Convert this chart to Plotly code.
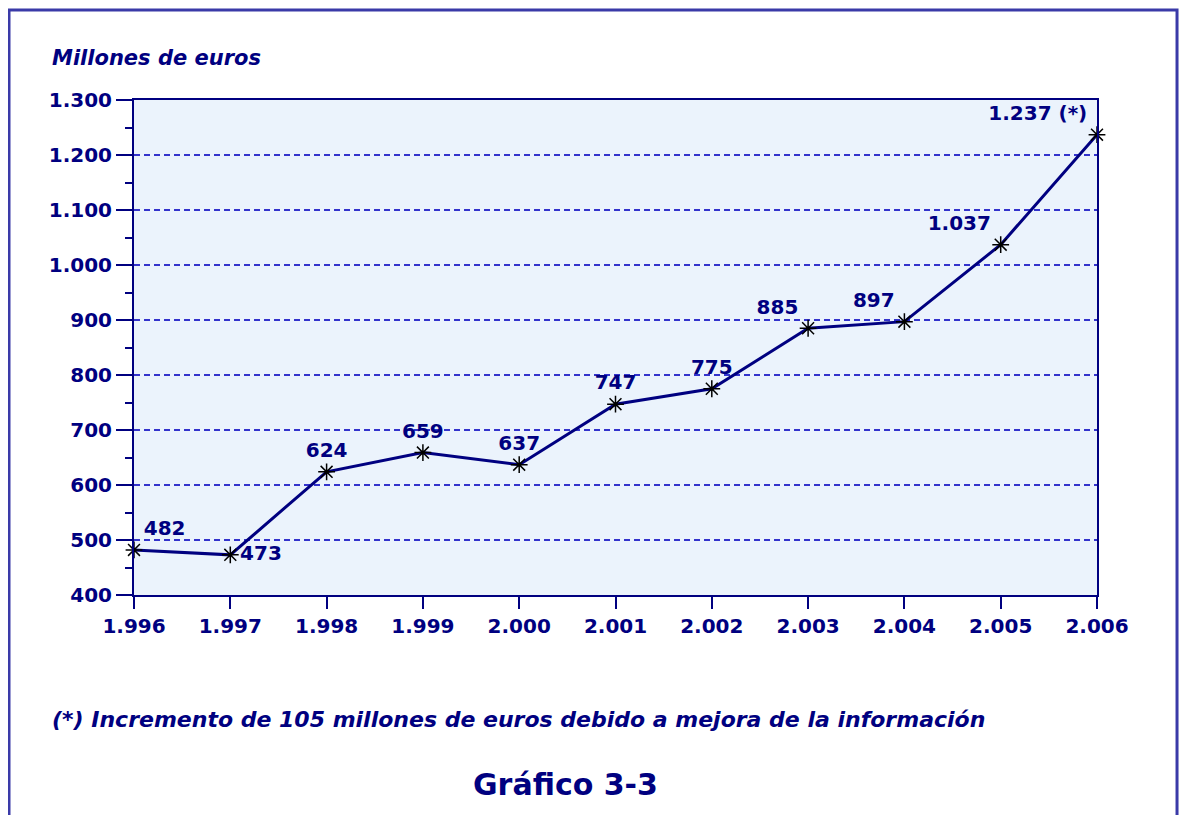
import plotly.graph_objects as go

# datos del gráfico
years = [1996, 1997, 1998, 1999, 2000, 2001, 2002, 2003, 2004, 2005, 2006]
values = [482, 473, 624, 659, 637, 747, 775, 885, 897, 1037, 1237]
notes = ["", "", "", "", "", "", "", "", "", "", " (*)"]
label_pos = ["top right", "middle right", "top center", "top center", "top center",
             "top center", "top center", "top left", "top left", "top left", "top left"]
y_ticks = [400, 500, 600, 700, 800, 900, 1000, 1100, 1200, 1300]

navy = "#000080"
font = "DejaVu Sans, Liberation Sans, sans-serif"

labels = [f"{v:,}".replace(",", ".") + n for v, n in zip(values, notes)]

fig = go.Figure()
fig.add_trace(go.Scatter(
    x=years,
    y=values,
    mode="lines+markers+text",
    text=labels,
    textposition=label_pos,
    textfont=dict(family=font, size=20, color=navy, weight="bold"),
    line=dict(color=navy, width=3),
    marker=dict(symbol="asterisk-open", size=14, color="black", line=dict(color="black", width=1.5)),
    cliponaxis=False,
    showlegend=False,
))

# marco exterior
fig.add_shape(type="rect", xref="paper", yref="paper", x0=-0.1298, x1=1.0831, y0=-0.6, y1=1.1818,
              fillcolor="rgba(0,0,0,0)", line=dict(color="#3a3aa8", width=3), layer="below")

fig.add_annotation(text="<b><i>Millones de euros</i></b>", xref="paper", yref="paper",
                   x=-0.0872, y=1.085, xanchor="left", yanchor="middle", showarrow=False,
                   font=dict(family=font, size=21, color=navy))
fig.add_annotation(text="<b><i>(*) Incremento de 105 millones de euros debido a mejora de la información</i></b>",
                   xref="paper", yref="paper", x=-0.0872, y=-0.2525, xanchor="left", yanchor="middle",
                   showarrow=False, font=dict(family=font, size=22, color=navy))
fig.add_annotation(text="<b>Gráfico 3-3</b>", xref="paper", yref="paper", x=0.4476, y=-0.3838,
                   xanchor="center", yanchor="middle", showarrow=False,
                   font=dict(family=font, size=30, color=navy))

fig.update_layout(
    width=1171,
    height=807,
    margin=dict(l=126, r=82, t=92, b=220),
    paper_bgcolor="white",
    plot_bgcolor="#ebf3fc",
    separators=",.",
    font=dict(family=font, color=navy),
    xaxis=dict(
        range=[1996, 2006],
        tickvals=years,
        tickformat=",d",
        ticks="outside",
        ticklen=12,
        tickwidth=2,
        tickcolor=navy,
        showline=True,
        linecolor=navy,
        linewidth=2,
        mirror=True,
        showgrid=False,
        zeroline=False,
        tickfont=dict(family=font, size=20, color=navy, weight="bold"),
    ),
    yaxis=dict(
        range=[400, 1300],
        tickvals=y_ticks,
        tickformat=",d",
        ticks="outside",
        ticklen=16,
        tickwidth=2,
        tickcolor=navy,
        minor=dict(dtick=50, ticks="outside", ticklen=7, tickwidth=1.5, tickcolor=navy, showgrid=False),
        showline=True,
        linecolor=navy,
        linewidth=2,
        mirror=True,
        showgrid=True,
        gridcolor="#3333cc",
        gridwidth=1.5,
        griddash="6px,4px",
        zeroline=False,
        tickfont=dict(family=font, size=20, color=navy, weight="bold"),
    ),
)

fig.write_html("out.html")
